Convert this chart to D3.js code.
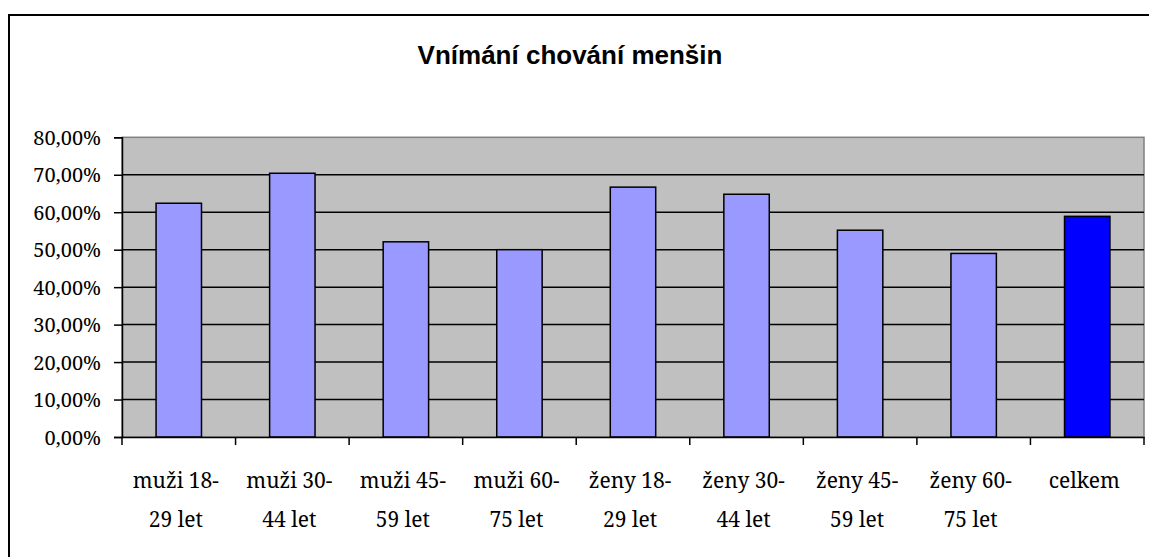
<!DOCTYPE html>
<html><head><meta charset="utf-8">
<script src="https://cdn.jsdelivr.net/npm/d3@7"></script>
</head><body style="margin:0">
<svg id="chart" width="1149" height="557" font-family="Noto Serif" style="display:block"></svg>
<script>
const title = "Vnímání chování menšin";
const categories = [["muži 18-","29 let"],["muži 30-","44 let"],["muži 45-","59 let"],["muži 60-","75 let"],["ženy 18-","29 let"],["ženy 30-","44 let"],["ženy 45-","59 let"],["ženy 60-","75 let"],["celkem",""]];
const values = [0.624, 0.704, 0.521, 0.500, 0.667, 0.648, 0.552, 0.490, 0.589];
const colors = ["#9999FF","#9999FF","#9999FF","#9999FF","#9999FF","#9999FF","#9999FF","#9999FF","#0000FF"];
const yTicks = [0,0.1,0.2,0.3,0.4,0.5,0.6,0.7,0.8];

const svg = d3.select("#chart");
const L = 122, R = 1144, T = 137.3, B = 437;

svg.append("rect").attr("x",9).attr("y",15).attr("width",1160).attr("height",600)
  .attr("fill","#fff").attr("stroke","#000").attr("stroke-width",2);

svg.append("text").attr("x",570).attr("y",64).attr("text-anchor","middle")
  .style("font-family",'"Liberation Sans"').style("font-weight","bold").style("font-size","26px").text(title);

const x = d3.scaleBand().domain(d3.range(categories.length)).range([L,R]).paddingInner(0.6).paddingOuter(0.3);
const xc = d3.scaleBand().domain(d3.range(categories.length)).range([L,R]);
const y = d3.scaleLinear().domain([0,0.8]).range([B,T]);

svg.append("rect").attr("x",L).attr("y",T).attr("width",R-L).attr("height",B-T)
  .attr("fill","#C0C0C0").attr("stroke","#808080").attr("stroke-width",1.5);

svg.append("g").selectAll("line").data(yTicks.filter(d=>d>0 && d<0.8)).join("line")
  .attr("x1",L).attr("x2",R).attr("y1",d=>y(d)).attr("y2",d=>y(d))
  .attr("stroke","#000").attr("stroke-width",1.5);

svg.append("g").selectAll("rect").data(values).join("rect")
  .attr("x",(d,i)=>x(i)).attr("width",x.bandwidth())
  .attr("y",d=>y(d)).attr("height",d=>B-y(d))
  .attr("fill",(d,i)=>colors[i]).attr("stroke","#000").attr("stroke-width",1.5);

const yAxis = d3.axisLeft(y).tickValues(yTicks).tickSize(8).tickPadding(13)
  .tickFormat(d=>d3.format(".2f")(d*100).replace(".",",")+"%");
const gy = svg.append("g").attr("transform",`translate(${L},0)`).call(yAxis);
gy.attr("font-family","Noto Serif").attr("font-size",20);
gy.select(".domain").attr("stroke","#000").attr("stroke-width",1.5);
gy.selectAll(".tick line").attr("stroke","#000").attr("stroke-width",1.5);
gy.selectAll(".tick text").attr("font-family","Noto Serif").attr("font-size",20)
  .attr("fill","#000").attr("dy","0.36em");

const xAxis = d3.axisBottom(xc).tickValues([]).tickSize(0);
const gx = svg.append("g").attr("transform",`translate(0,${B})`).call(xAxis);
gx.select(".domain").attr("stroke","#000").attr("stroke-width",1.5);
svg.append("g").selectAll("line").data(d3.range(categories.length+1)).join("line")
  .attr("x1",i=>L+i*xc.step()).attr("x2",i=>L+i*xc.step())
  .attr("y1",B).attr("y2",B+8).attr("stroke","#000").attr("stroke-width",1.5);

const lab = svg.append("g").attr("font-family","Noto Serif").attr("font-size",21)
  .selectAll("text").data(categories).join("text")
  .attr("font-family","Noto Serif").attr("font-size",21)
  .attr("text-anchor","middle").attr("fill","#000");
lab.append("tspan").attr("x",(d,i)=>xc(i)+xc.bandwidth()/2-3).attr("y",488).text(d=>d[0]);
lab.append("tspan").attr("x",(d,i)=>xc(i)+xc.bandwidth()/2-3).attr("y",527).text(d=>d[1]);
</script>
</body></html>
